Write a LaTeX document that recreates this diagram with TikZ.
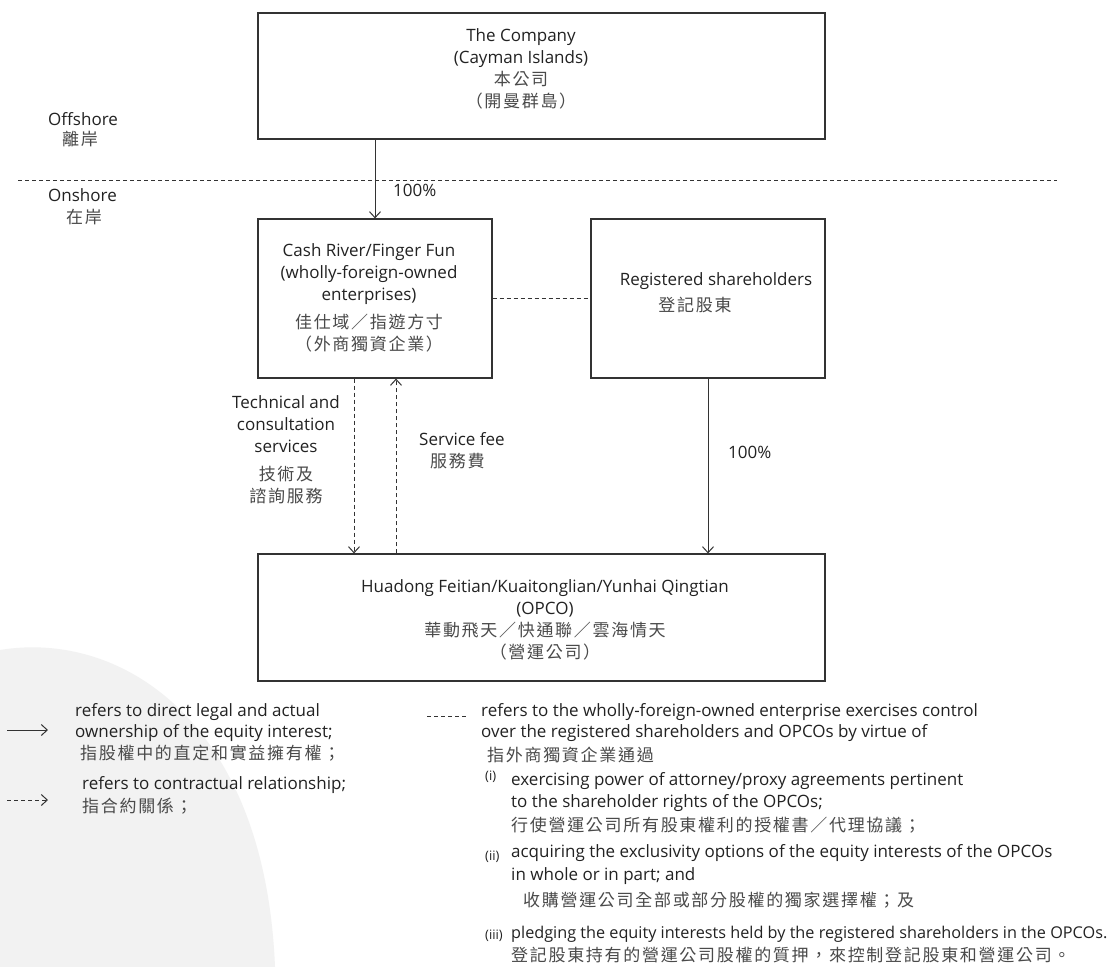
\documentclass[tikz,border=0pt]{standalone}
\usepackage{graphicx}
\usepackage{fontspec}
\setmainfont{Open Sans}
\newfontfamily\cjkf[LetterSpace=10]{Noto Sans CJK TC}
\usetikzlibrary{arrows.meta}
\definecolor{ink}{HTML}{222222}
\definecolor{cjkc}{HTML}{4A4A4A}
\definecolor{edge}{HTML}{333333}
\definecolor{bgA}{HTML}{F2F2F2}
\newcommand\zh[1]{{\cjkf\color{cjkc}#1}}
\tikzset{
  box/.style={draw=edge, line width=1.2pt, inner sep=0pt},
  txt/.style={inner sep=0pt, align=center, text=ink, font=\fontsize{17}{22}\selectfont},
  ltxt/.style={txt, anchor=west, align=left},
  itemmark/.style={inner sep=0pt, anchor=west, text=ink, font=\fontsize{13}{16}\selectfont},
  own/.style={draw=edge, line width=1pt, -{Straight Barb[length=6pt,width=11pt]}},
  ctr/.style={own, dash pattern=on 4pt off 3pt},
  ctrl/.style={draw=edge, line width=1pt, dash pattern=on 4pt off 3pt},
}
\begin{document}
\begin{tikzpicture}[x=1pt,y=-1pt]
\useasboundingbox (0,0) rectangle (1109,967);
\fill[white] (0,0) rectangle (1109,967);
\fill[bgA] (0,967) -- (0,650) .. controls (120,630) and (265,720) .. (275,967) -- cycle;

% boxes
\node[box, minimum width=567pt, minimum height=126pt] (company) at (541.5,76) {};
\node[box, minimum width=234pt, minimum height=159pt] (cash) at (375,298.5) {};
\node[box, minimum width=234pt, minimum height=159pt] (reg) at (708,298.5) {};
\node[box, minimum width=567pt, minimum height=127pt] (opco) at (541.5,617.5) {};

% box texts
\node[txt] (companytxt) at (521,68.5) {The Company\\(Cayman Islands)\\\zh{本公司}\\\zh{（開曼群島）}};
\node[txt] (cashtxt) at (369,298) {Cash River/Finger Fun\\(wholly-foreign-owned\\enterprises)\\[6pt]\zh{佳仕域／指遊方寸}\\\zh{（外商獨資企業）}};
\node[txt] (regtxt) at (716,281) {Registered shareholders};
\node[txt] (regzh) at (695,305) {\zh{登記股東}};
\node[txt] (opcotxt) at (545,619.5) {Huadong Feitian/Kuaitonglian/Yunhai Qingtian\\(OPCO)\\\zh{華動飛天／快通聯／雲海情天}\\\zh{（營運公司）}};

% offshore / onshore
\coordinate (divL) at (18,180);
\coordinate (divR) at (1057,180);
\draw[ctrl] (divL) -- (divR);
\node[ltxt] (offen) at (48,119) {Offshore};
\node[ltxt] (offzh) at (62,139) {\zh{離岸}};
\node[ltxt] (onen) at (48,195) {Onshore};
\node[ltxt] (onzh) at (66,217) {\zh{在岸}};

% connectors
\draw[own] (cash.north |- company.south) -- (cash.north);
\node[ltxt] (pct1) at (393,190) {100\%};
\draw[ctrl] (cash.east) -- (reg.west);
\draw[ctr] ([xshift=-21pt]cash.south) -- ([xshift=-21pt]cash.south |- opco.north);
\draw[ctr] ([xshift=21pt]cash.south |- opco.north) -- ([xshift=21pt]cash.south);
\draw[own] (reg.south) -- (reg.south |- opco.north);
\node[ltxt] (pct2) at (728,452) {100\%};
\node[txt] (techtxt) at (286,450) {Technical and\\consultation\\services\\[6pt]\zh{技術及}\\\zh{諮詢服務}};
\node[ltxt] (feeen) at (419,439) {Service fee};
\node[ltxt] (feezh) at (430,461) {\zh{服務費}};

% legend left
\coordinate (la1) at (7,730);
\coordinate (lb1) at (48,730);
\draw[own] (la1) -- (lb1);
\node[ltxt] (leg1a) at (75,712) {refers to direct legal and actual};
\node[ltxt] (leg1b) at (75,733) {ownership of the equity interest;};
\node[ltxt] (leg1c) at (80,753) {\zh{指股權中的直定和實益擁有權；}};
\coordinate (la2) at (7,800);
\coordinate (lb2) at (48,800);
\draw[ctr] (la2) -- (lb2);
\node[ltxt] (leg2a) at (82,785) {refers to contractual relationship;};
\node[ltxt] (leg2b) at (82,806) {\zh{指合約關係；}};

% legend right
\coordinate (la3) at (427,716);
\coordinate (lb3) at (467,716);
\draw[ctrl] (la3) -- (lb3);
\node[ltxt] (leg3a) at (481,712) {refers to the wholly-foreign-owned enterprise exercises control};
\node[ltxt] (leg3b) at (481,733) {over the registered shareholders and OPCOs by virtue of};
\node[ltxt] (leg3c) at (487,755) {\zh{指外商獨資企業通過}};
\node[itemmark] (m1) at (485,777) {(i)};
\node[ltxt] (i1) at (511,781) {exercising power of attorney/proxy agreements pertinent};
\node[ltxt] (i2) at (511,803) {to the shareholder rights of the OPCOs;};
\node[ltxt] (i3) at (511,825) {\zh{行使營運公司所有股東權利的授權書／代理協議；}};
\node[itemmark] (m2) at (485,857) {(ii)};
\node[ltxt] (ii1) at (511,853) {acquiring the exclusivity options of the equity interests of the OPCOs};
\node[ltxt] (ii2) at (511,876) {in whole or in part; and};
\node[ltxt] (ii3) at (523,900) {\zh{收購營運公司全部或部分股權的獨家選擇權；及}};
\node[itemmark] (m3) at (485,936) {(iii)};
\node[ltxt] (iii1) at (511,934) {\resizebox{596pt}{!}{pledging the equity interests held by the registered shareholders in the OPCOs.}};
\node[ltxt] (iii2) at (511,955) {\zh{登記股東持有的營運公司股權的質押，來控制登記股東和營運公司。}};
\end{tikzpicture}
\end{document}
